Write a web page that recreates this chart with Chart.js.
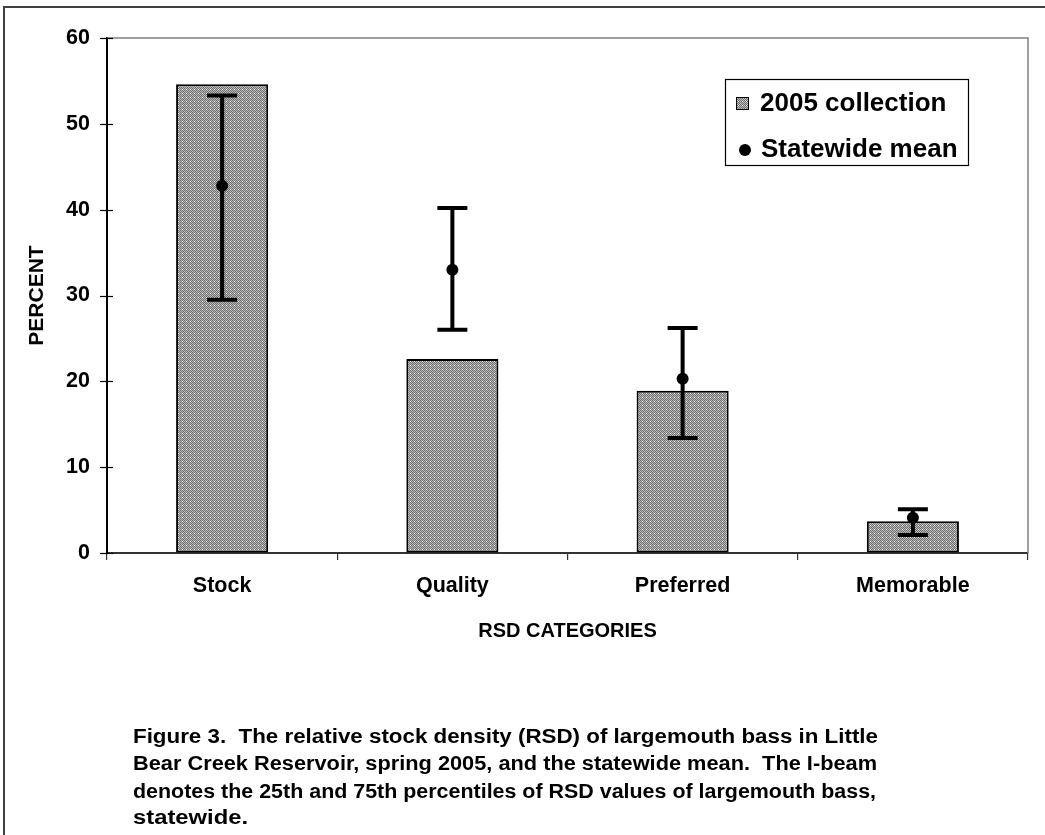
<!DOCTYPE html>
<html>
<head>
<meta charset="utf-8">
<script src="https://cdn.jsdelivr.net/npm/chart.js@4.4.1/dist/chart.umd.min.js"></script>
<style>
  html, body { margin: 0; padding: 0; background: #fff; }
  #wrap { width: 1045px; height: 835px; position: relative; }
</style>
</head>
<body>
<div id="wrap"><canvas id="rsd" width="1045" height="835"></canvas></div>
<script>
// RSD categories and values (percent)
const categories = ['Stock', 'Quality', 'Preferred', 'Memorable'];
const collection2005 = [54.6, 22.6, 18.9, 3.7];
const statewideMean = [42.8, 33.0, 20.3, 4.1];
const statewideP25 = [29.5, 26.0, 13.4, 2.1];
const statewideP75 = [53.3, 40.2, 26.2, 5.1];
const yTicks = [0, 10, 20, 30, 40, 50, 60];

const seriesNames = ['2005 collection', 'Statewide mean'];
const captionLines = [
  'Figure 3.  The relative stock density (RSD) of largemouth bass in Little',
  'Bear Creek Reservoir, spring 2005, and the statewide mean.  The I-beam',
  'denotes the 25th and 75th percentiles of RSD values of largemouth bass,',
  'statewide.'
];
// set width of each caption line, px
const captionWidths = [745, 744, 743, 115];

const FONT = '"Liberation Sans", Arial, sans-serif';
Chart.defaults.font.family = FONT;
Chart.defaults.font.weight = 'bold';
Chart.defaults.color = '#000';

// dithered grey fill used for the bars
function makeDither(ctx) {
  const t = document.createElement('canvas');
  t.width = 4; t.height = 4;
  const c = t.getContext('2d');
  const D = '#6e6e6e', L = '#bcbcbc', W = '#ffffff';
  const grid = [
    [D, L, D, L],
    [L, D, W, D],
    [D, L, D, L],
    [L, D, L, D]
  ];
  for (let y = 0; y < 4; y++) for (let x = 0; x < 4; x++) {
    c.fillStyle = grid[y][x];
    c.fillRect(x, y, 1, 1);
  }
  return ctx.createPattern(t, 'repeat');
}

const canvas = document.getElementById('rsd');
const ctx0 = canvas.getContext('2d');
const dither = makeDither(ctx0);

// page background, frame, plot border, tick marks, I-beams, legend and caption
const decorations = {
  id: 'decorations',
  beforeDraw(chart) {
    const c = chart.ctx;
    c.save();
    c.fillStyle = '#fff';
    c.fillRect(0, 0, chart.width, chart.height);
    c.strokeStyle = '#404040';
    c.lineWidth = 2;
    c.beginPath();
    c.moveTo(4, chart.height);
    c.lineTo(4, 7);
    c.lineTo(chart.width, 7);
    c.stroke();
    c.restore();
  },
  beforeDatasetsDraw(chart) {
    const c = chart.ctx;
    const a = chart.chartArea;
    c.save();
    c.strokeStyle = '#808080';
    c.lineWidth = 1.5;
    c.beginPath();
    c.moveTo(a.left, a.top);
    c.lineTo(a.right, a.top);
    c.lineTo(a.right, a.bottom);
    c.stroke();
    // y tick marks crossing the axis
    const ys = chart.scales.y;
    c.strokeStyle = '#000';
    c.lineWidth = 1.2;
    yTicks.forEach(v => {
      const py = Math.round(ys.getPixelForValue(v)) + 0.5;
      c.beginPath();
      c.moveTo(a.left - 7, py);
      c.lineTo(a.left + 6, py);
      c.stroke();
    });
    c.restore();
  },
  afterDatasetsDraw(chart) {
    const c = chart.ctx;
    const xs = chart.scales.x, ys = chart.scales.y;
    c.save();
    c.strokeStyle = '#000';
    c.lineWidth = 4;
    c.lineCap = 'butt';
    categories.forEach((cat, i) => {
      const px = xs.getPixelForValue(i);
      const lo = ys.getPixelForValue(statewideP25[i]);
      const hi = ys.getPixelForValue(statewideP75[i]);
      c.beginPath();
      c.moveTo(px, lo + 2);
      c.lineTo(px, hi - 2);
      c.moveTo(px - 15, lo);
      c.lineTo(px + 15, lo);
      c.moveTo(px - 15, hi);
      c.lineTo(px + 15, hi);
      c.stroke();
    });
    c.restore();
  },
  afterDraw(chart) {
    const c = chart.ctx;
    c.save();
    // legend
    const lx = 725, ly = 79, lw = 243, lh = 86;
    c.fillStyle = '#fff';
    c.fillRect(lx, ly, lw, lh);
    c.strokeStyle = '#000';
    c.lineWidth = 1.2;
    c.strokeRect(lx + 0.5, ly + 0.5, lw, lh);
    c.font = 'bold 26px ' + FONT;
    c.textBaseline = 'middle';
    c.textAlign = 'left';
    const barSet = chart.data.datasets.find(d => d.type === 'bar');
    const meanSet = chart.data.datasets.find(d => d.type === 'line');
    // bar swatch
    c.fillStyle = dither;
    c.fillRect(736, 97, 13, 13);
    c.strokeStyle = '#000';
    c.lineWidth = 1;
    c.strokeRect(736.5, 97.5, 12, 12);
    c.fillStyle = '#000';
    c.fillText(barSet.label, 760, 104);
    // point swatch
    c.beginPath();
    c.arc(745, 150, 6, 0, Math.PI * 2);
    c.fill();
    c.fillText(meanSet.label, 761, 150);

    // caption
    c.font = 'bold 20px ' + FONT;
    const lineYs = [737, 764, 792, 818];
    captionLines.forEach((t, i) => {
      const sx = captionWidths[i] / c.measureText(t).width;
      c.save();
      c.translate(133, lineYs[i]);
      c.scale(sx, 1);
      c.fillText(t, 0, 0);
      c.restore();
    });
    c.restore();
  }
};

new Chart(canvas, {
  type: 'bar',
  data: {
    labels: categories,
    datasets: [
      {
        type: 'line',
        label: seriesNames[1],
        data: statewideMean,
        showLine: false,
        pointRadius: 6,
        pointHoverRadius: 6,
        pointBackgroundColor: '#000',
        pointBorderColor: '#000',
        pointBorderWidth: 0,
        order: 0
      },
      {
        type: 'bar',
        label: seriesNames[0],
        data: collection2005,
        backgroundColor: dither,
        borderColor: '#000',
        borderWidth: 2,
        borderSkipped: false,
        barPercentage: 0.8,
        categoryPercentage: 0.5,
        order: 1
      }
    ]
  },
  options: {
    responsive: false,
    animation: false,
    events: [],
    layout: { padding: { left: 0, top: 38, right: 17, bottom: 192 } },
    plugins: {
      legend: { display: false },
      tooltip: { enabled: false }
    },
    scales: {
      x: {
        type: 'category',
        offset: true,
        grid: {
          display: true,
          drawOnChartArea: false,
          drawTicks: true,
          tickLength: 7,
          offset: true,
          color: '#333',
          lineWidth: 1.2
        },
        border: { display: true, color: '#333', width: 2 },
        ticks: { font: { size: 21.5, weight: 'bold' }, color: '#000', padding: 13, maxRotation: 0 },
        title: {
          display: true,
          text: 'RSD CATEGORIES',
          font: { size: 20, weight: 'bold' },
          color: '#000',
          padding: { top: 0, bottom: 0 }
        },
        afterFit(scale) { scale.height = 90; }
      },
      y: {
        min: 0,
        max: 60,
        afterBuildTicks(scale) { scale.ticks = yTicks.map(v => ({ value: v })); },
        grid: { display: true, drawOnChartArea: false, drawTicks: false },
        border: { display: true, color: '#000', width: 2 },
        ticks: { font: { size: 21.5, weight: 'bold' }, color: '#000', padding: 17 },
        title: {
          display: true,
          text: 'PERCENT',
          font: { size: 21, weight: 'bold' },
          color: '#000',
          padding: { top: 25, bottom: 0 }
        },
        afterFit(scale) { scale.width = 107; }
      }
    }
  },
  plugins: [decorations]
});
</script>
</body>
</html>
